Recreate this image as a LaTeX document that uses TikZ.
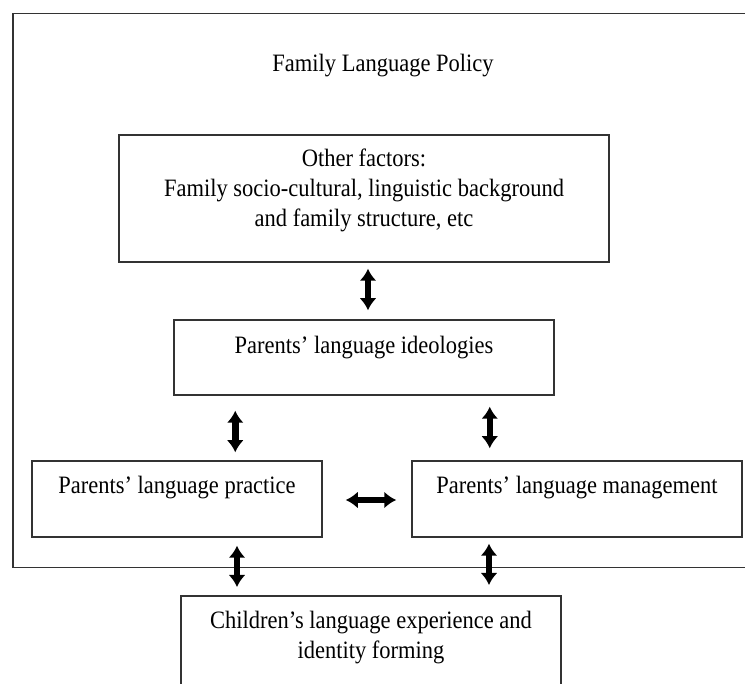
\documentclass[tikz,border=0pt]{standalone}
\usepackage{fontspec}
\setmainfont{Liberation Serif}[FakeStretch=0.9]
\usetikzlibrary{arrows.meta,positioning}

\begin{document}
\begin{tikzpicture}[x=1pt,y=-1pt,
    box/.style={draw=black!80,line width=1.5pt,inner sep=0pt},
    txt/.style={font=\fontsize{25}{30}\selectfont,align=center,inner sep=0pt},
    dbl/.style={{Latex[length=12pt,width=17pt]}-{Latex[length=12pt,width=17pt]},
        line width=6.5pt},
    ]
    \useasboundingbox (0,0) rectangle (745,684);
    \clip (0,0) rectangle (745,684);
    % outer frame and title
    \node[box,minimum width=780pt,minimum height=554pt,anchor=north west] (flp) at (12,13) {};
    \node[txt,anchor=base] (title) at (383,72) {Family Language Policy};
    % boxes
    \node[box,minimum width=490pt,minimum height=127pt] (other) at (364,198.5) {};
    \node[txt,below=14.5pt of other.north] (othertxt) {Other factors:\\
        Family socio-cultural, linguistic background\\
        and family structure, etc};
    \node[box,minimum width=380pt,minimum height=75pt] (ideo) at (364,357.5) {};
    \node[txt,below=17pt of ideo.north] (ideotxt) {Parents’ language ideologies};
    \node[box,minimum width=290pt,minimum height=76pt] (practice) at (177,499) {};
    \node[txt,below=16pt of practice.north] (practicetxt) {Parents’ language practice};
    \node[box,minimum width=330pt,minimum height=76pt] (manage) at (577,499) {};
    \node[txt,below=16pt of manage.north] (managetxt) {Parents’ language management};
    \node[box,minimum width=380pt,minimum height=130pt,anchor=north] (child) at (371,595) {};
    \node[txt,below=16pt of child.north] (childtxt) {Children’s language experience and\\
        identity forming};
    % arrows
    \draw[dbl,shorten <=6pt,shorten >=9pt] ([xshift=4pt]other.south) -- ([xshift=4pt]ideo.north);
    \draw[dbl,shorten <=15pt,shorten >=8pt] ([xshift=62pt]ideo.south west)
        -- ([xshift=62pt]ideo.south west |- practice.north);
    \draw[dbl,shorten <=11pt,shorten >=12pt] ([xshift=-65pt]ideo.south east)
        -- ([xshift=-65pt]ideo.south east |- manage.north);
    \draw[dbl,shorten <=23pt,shorten >=15pt] ([yshift=-1pt]practice.east) -- ([yshift=-1pt]manage.west);
    \draw[dbl,shorten <=8pt,shorten >=8pt] ([xshift=60pt]practice.south)
        -- ([xshift=60pt]practice.south |- child.north);
    \draw[dbl,shorten <=6pt,shorten >=10pt] ([xshift=-88pt]manage.south)
        -- ([xshift=-88pt]manage.south |- child.north);
\end{tikzpicture}
\end{document}
